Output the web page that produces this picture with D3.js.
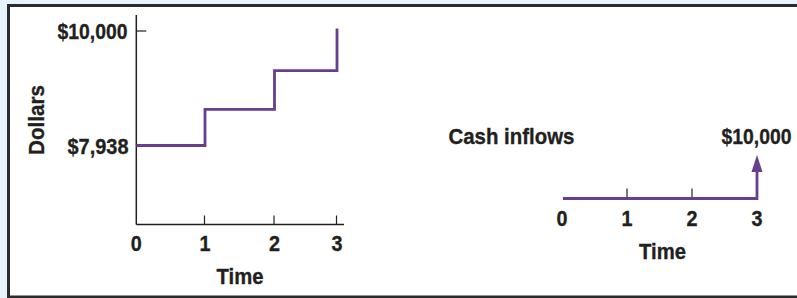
<!DOCTYPE html>
<html><head><meta charset="utf-8">
<script src="https://cdn.jsdelivr.net/npm/d3@7"></script>
<style>
html,body{margin:0;padding:0;background:#e6f3fb;}
svg{display:block;}
text{font-family:"Liberation Sans","Arial",sans-serif;font-weight:bold;fill:#231f20;stroke:#231f20;stroke-width:0.35;}
</style></head>
<body>
<script>
// Data
const periods = [0, 1, 2, 3];
const values = [7938, 8573, 9259, 10000];
const yTickValues = [7938, 10000];
const yTickLabels = ["$7,938", "$10,000"];
const cashFlowPeriod = 3;
const cashFlowLabel = "$10,000";
const leftTitleY = "Dollars";
const xTitle = "Time";
const rightTitle = "Cash inflows";

const W = 797, H = 298;
const purple = "#663f8d";
const ink = "#231f20";
const FS = 22.5;

const svg = d3.select("body").append("svg").attr("width", W).attr("height", H);
svg.append("rect").attr("x", 9).attr("y", 6).attr("width", W).attr("height", 291).attr("fill", "#fff");
svg.append("path").attr("d", `M${W+2},5.5 H8.5 V297 H${W+2}`).attr("fill", "none")
  .attr("stroke", "#2b2b2b").attr("stroke-width", 3);

// condensed text: left-x, baseline-y, target width, optional rotation, anchor
function txt(g, s, px, py, len, rot, anchor) {
  const t = g.append("text").attr("font-size", FS).attr("text-anchor", anchor || "start").text(s);
  const nat = t.node().getComputedTextLength();
  const sx = len / nat;
  t.attr("transform", `translate(${px},${py})${rot ? ` rotate(${rot})` : ""} scale(${sx},1)`);
  return t;
}

// Left chart
const x = d3.scaleLinear().domain([0, 1, 2, 3]).range([136.3, 205, 274.5, 337]);
const y = d3.scaleLinear().domain([7938, 10000]).range([145.5, 28.5]);
const axisY = 224.5;

const gL = svg.append("g");
gL.append("line").attr("x1", x(0)).attr("x2", x(0)).attr("y1", 15).attr("y2", axisY)
  .attr("stroke", ink).attr("stroke-width", 1.5);
gL.append("line").attr("x1", x(0)).attr("x2", 344).attr("y1", axisY).attr("y2", axisY)
  .attr("stroke", ink).attr("stroke-width", 1.5);
gL.selectAll(".xt").data(periods.slice(1)).join("line")
  .attr("x1", d => x(d) - 0.5).attr("x2", d => x(d) - 0.5).attr("y1", axisY).attr("y2", axisY - 9)
  .attr("stroke", ink).attr("stroke-width", 1.2);
periods.forEach(d => txt(gL, String(d), x(d), 250.5, 11, 0, "middle"));
txt(gL, xTitle, 216.5, 283.5, 47);
// y ticks
gL.append("line").attr("x1", x(0)).attr("x2", x(0) + 10).attr("y1", y(10000) + 2.5).attr("y2", y(10000) + 2.5)
  .attr("stroke", ink).attr("stroke-width", 1.2);
txt(gL, yTickLabels[1], 57.5, y(yTickValues[1]) + 10.5, 70);
txt(gL, yTickLabels[0], 67.5, y(yTickValues[0]) + 8, 61);
txt(gL, leftTitleY, 43.5, 155, 70, -90);
// step line
const stepPts = [];
values.forEach((v, i) => {
  if (i > 0) stepPts.push([periods[i], values[i - 1]]);
  stepPts.push([periods[i], v]);
});
const line = d3.line().x(d => x(d[0])).y(d => y(d[1]));
gL.append("path").attr("d", line(stepPts)).attr("fill", "none").attr("stroke", purple)
  .attr("stroke-width", 2.8).attr("stroke-linejoin", "miter");

// Right chart: cash flow timeline
const x2 = d3.scaleLinear().domain([0, 3]).range([562, 757]);
const baseY = 198.5;
const gR = svg.append("g");
gR.selectAll(".rt").data([1, 2]).join("line")
  .attr("x1", d => x2(d)).attr("x2", d => x2(d)).attr("y1", baseY).attr("y2", baseY - 10)
  .attr("stroke", ink).attr("stroke-width", 1.2);
gR.append("path").attr("d", `M${x2(0) + 1},${baseY} H${x2(cashFlowPeriod)} V${168}`)
  .attr("fill", "none").attr("stroke", purple).attr("stroke-width", 2.8);
gR.append("path").attr("d", `M${x2(cashFlowPeriod)},155 L${x2(cashFlowPeriod) + 5.5},172 L${x2(cashFlowPeriod) - 5.5},172 Z`)
  .attr("fill", purple);
periods.forEach(d => txt(gR, String(d), x2(d), 225.5, 11, 0, "middle"));
txt(gR, xTitle, 639, 258.5, 47);
txt(gR, rightTitle, 448.5, 144, 126);
txt(gR, cashFlowLabel, 721.5, 144, 70);
</script>
</body></html>
